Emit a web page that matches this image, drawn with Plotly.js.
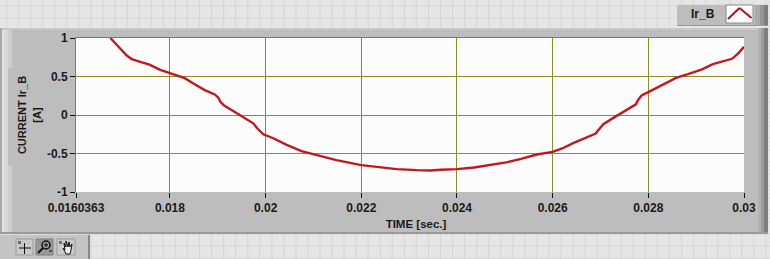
<!DOCTYPE html>
<html><head><meta charset="utf-8">
<script src="https://cdn.plot.ly/plotly-3.0.1.min.js"></script>
<style>html,body{margin:0;padding:0;background:#e6e6e6;overflow:hidden}#c{width:770px;height:259px}</style>
</head><body><div id="c"></div>
<script>
const seriesName = 'Ir_B';
const timeValues = [0.016755,0.016839,0.016979,0.017098,0.017203,0.017364,0.017573,0.017783,0.018,0.018308,0.018517,0.018727,0.018937,0.019007,0.019056,0.019126,0.019322,0.019531,0.019741,0.019825,0.01995,0.02016,0.02044,0.02075,0.02113,0.02148,0.022,0.02232,0.02274,0.02316,0.02345,0.02366,0.024,0.02436,0.02471,0.02506,0.02534,0.02567,0.026,0.0262,0.02644,0.02669,0.0269,0.02697,0.02706,0.02721,0.02742,0.02774,0.02778,0.02786,0.028,0.02827,0.02858,0.02883,0.02911,0.02935,0.02975,0.02988,0.03];
const currentValues = [1.0,0.94,0.85,0.772,0.724,0.694,0.655,0.59,0.543,0.478,0.40,0.323,0.267,0.228,0.172,0.125,0.052,-0.03,-0.108,-0.172,-0.25,-0.302,-0.388,-0.47,-0.534,-0.586,-0.651,-0.677,-0.703,-0.716,-0.72,-0.711,-0.703,-0.681,-0.651,-0.612,-0.57,-0.513,-0.478,-0.435,-0.362,-0.293,-0.24,-0.185,-0.12,-0.06,0.017,0.138,0.19,0.254,0.297,0.38,0.483,0.53,0.59,0.66,0.73,0.8,0.885];
const xTickVals = [0.0160363,0.018,0.02,0.022,0.024,0.026,0.028,0.03];
const xTickText = ['0.0160363','0.018','0.02','0.022','0.024','0.026','0.028','0.03'];
const yTickVals = [-1,-0.5,0,0.5,1];
const yTickText = ['-1','-0.5','0','0.5','1'];

const L=76,R=744,T=38,B=192,W=R-L,H=B-T;
const X=x=>(x-L)/W, Y=y=>(B-y)/H;
const shapes=[];
function rect(x0,y0,x1,y1,fill,line){shapes.push({type:'rect',xref:'paper',yref:'paper',x0:X(x0),x1:X(x1),y0:Y(y1),y1:Y(y0),fillcolor:fill,line:line?{color:line,width:1}:{width:0},layer:'below'});}
function seg(x0,y0,x1,y1,c,w){shapes.push({type:'line',xref:'paper',yref:'paper',x0:X(x0),x1:X(x1),y0:Y(y0),y1:Y(y1),line:{color:c,width:w||1},layer:'below'});}
function circ(x0,y0,x1,y1,c,w){shapes.push({type:'circle',xref:'paper',yref:'paper',x0:X(x0),x1:X(x1),y0:Y(y1),y1:Y(y0),line:{color:c,width:w||1},fillcolor:'rgba(0,0,0,0)',layer:'below'});}
// patterned backdrop
rect(0,0,770,259,'#e6e6e6');
for(let k=0;k<64;k++)seg(6.7+12.05*k,0,6.7+12.05*k,259,'#d6d6d6');
for(let k=0;k<22;k++)seg(0,6+12*k,770,6+12*k,'#d6d6d6');
// main panel
rect(0,28,768,234,'#bdbdbd');
rect(L,T,R,B,'#fcfcfc');
rect(0,28,768,30,'#c9c9c9');
rect(0,28,2,234,'#a9a9a9');
[['#e0e0e0',2,5],['#d8d8d8',5,8],['#cdcdcd',8,12]].forEach(b=>rect(b[1],30,b[2],232,b[0]));
rect(8,68,12,165,'#bdbdbd');
[['#b2b2b2',758,761],['#9c9c9c',761,764],['#7e7e7e',764,768]].forEach(b=>rect(b[1],28,b[2],234,b[0]));
rect(0,232,768,234,'#9a9a9a');
// plot frame
seg(L-.5,T-.5,R,T-.5,'#777777',1);seg(L-.5,T-.5,L-.5,B,'#777777',1);
// legend
rect(677,4,768,26,'#bdbdbd');
[['#aaaaaa',755,760],['#949494',760,764],['#7d7d7d',764,768]].forEach(b=>rect(b[1],4,b[2],26,b[0]));
rect(677,4,768,5,'#dddddd');rect(677,25,768,26,'#9a9a9a');
rect(726,5,753,23,'#fdfdfd','#8a8a8a');
seg(728,19,739.5,8,'#b5161b',2.2);seg(739.5,8,751.5,18,'#b5161b',2.2);
// palette
rect(0,235,90,259,'#c4c4c4');rect(88,235,90,259,'#8a8a8a');
rect(16,239,33,255,'#c9c9c9','#9b9b9b');rect(36,239,53,255,'#9a9a9a','#7f7f7f');rect(57,239,75,255,'#c9c9c9','#9b9b9b');
seg(24.5,243,24.5,254,'#111',1);seg(19,248,31,248,'#111',1);
rect(18,241,21,244,'#5f6f5f');rect(38,241,41,244,'#5fae5f');rect(59,241,62,244,'#6f6f6f');
circ(42,241,50,249,'#111',1.5);seg(44,245,48,245,'#111',1);seg(46,243,46,247,'#111',1);seg(43,248,38,253,'#111',2);
seg(49,251,52,251,'#111',1);
shapes.push({type:'path',xref:'paper',yref:'paper',layer:'below',line:{color:'#111',width:1},fillcolor:'#eeeeee',
 path:[[63,248],[65,250],[64,243],[66,247],[66,241],[68,247],[69,242],[70,247],[72,244],[71,250],[70,254],[66,254],[63,248]].map((p,i)=>(i?'L':'M')+X(p[0])+','+Y(p[1])).join(' ')+' Z'});

const font={family:'"Liberation Sans", Arial, sans-serif',size:12,color:'#1a1a1a',weight:700};
const titleFontY={family:font.family,size:11,color:'#1a1a1a',weight:700};
const titleFontX={family:font.family,size:11.5,color:'#1a1a1a',weight:700};
Plotly.newPlot('c',[{x:timeValues,y:currentValues,name:seriesName,type:'scatter',mode:'lines',
  line:{color:'#bd1a1f',width:2.4,shape:'linear'},hoverinfo:'skip'}],
{width:770,height:259,margin:{l:L,r:770-R,t:T,b:259-B,pad:0},showlegend:false,
 paper_bgcolor:'rgba(0,0,0,0)',plot_bgcolor:'#fcfcfc',font:font,
 xaxis:{range:[0.0160363,0.03],tickmode:'array',tickvals:xTickVals,ticktext:xTickText,tickangle:0,
  ticks:'outside',ticklen:5,tickcolor:'#111',tickwidth:1,showgrid:true,gridcolor:'#8f8a2c',gridwidth:1,zeroline:false,showline:false,
  tickfont:font,title:{text:'TIME [sec.]',font:titleFontX,standoff:5},automargin:false},
 yaxis:{range:[-1,1],tickmode:'array',tickvals:yTickVals,ticktext:yTickText,
  ticks:'outside',ticklen:5,tickcolor:'#111',tickwidth:1,showgrid:true,gridcolor:'#8f8a2c',gridwidth:1,zeroline:false,showline:false,
  tickfont:font,title:{text:'CURRENT Ir_B<br>[A]',font:titleFontY,standoff:3},automargin:false},
 shapes:shapes,
 annotations:[{xref:'paper',yref:'paper',x:X(703),y:Y(14),text:seriesName,showarrow:false,font:font,xanchor:'center',yanchor:'middle'}]
},{staticPlot:true,displayModeBar:false}).then(()=>{
  const t=document.querySelector('.xtitle'); if(t) t.setAttribute('x',416);
});
</script></body></html>
